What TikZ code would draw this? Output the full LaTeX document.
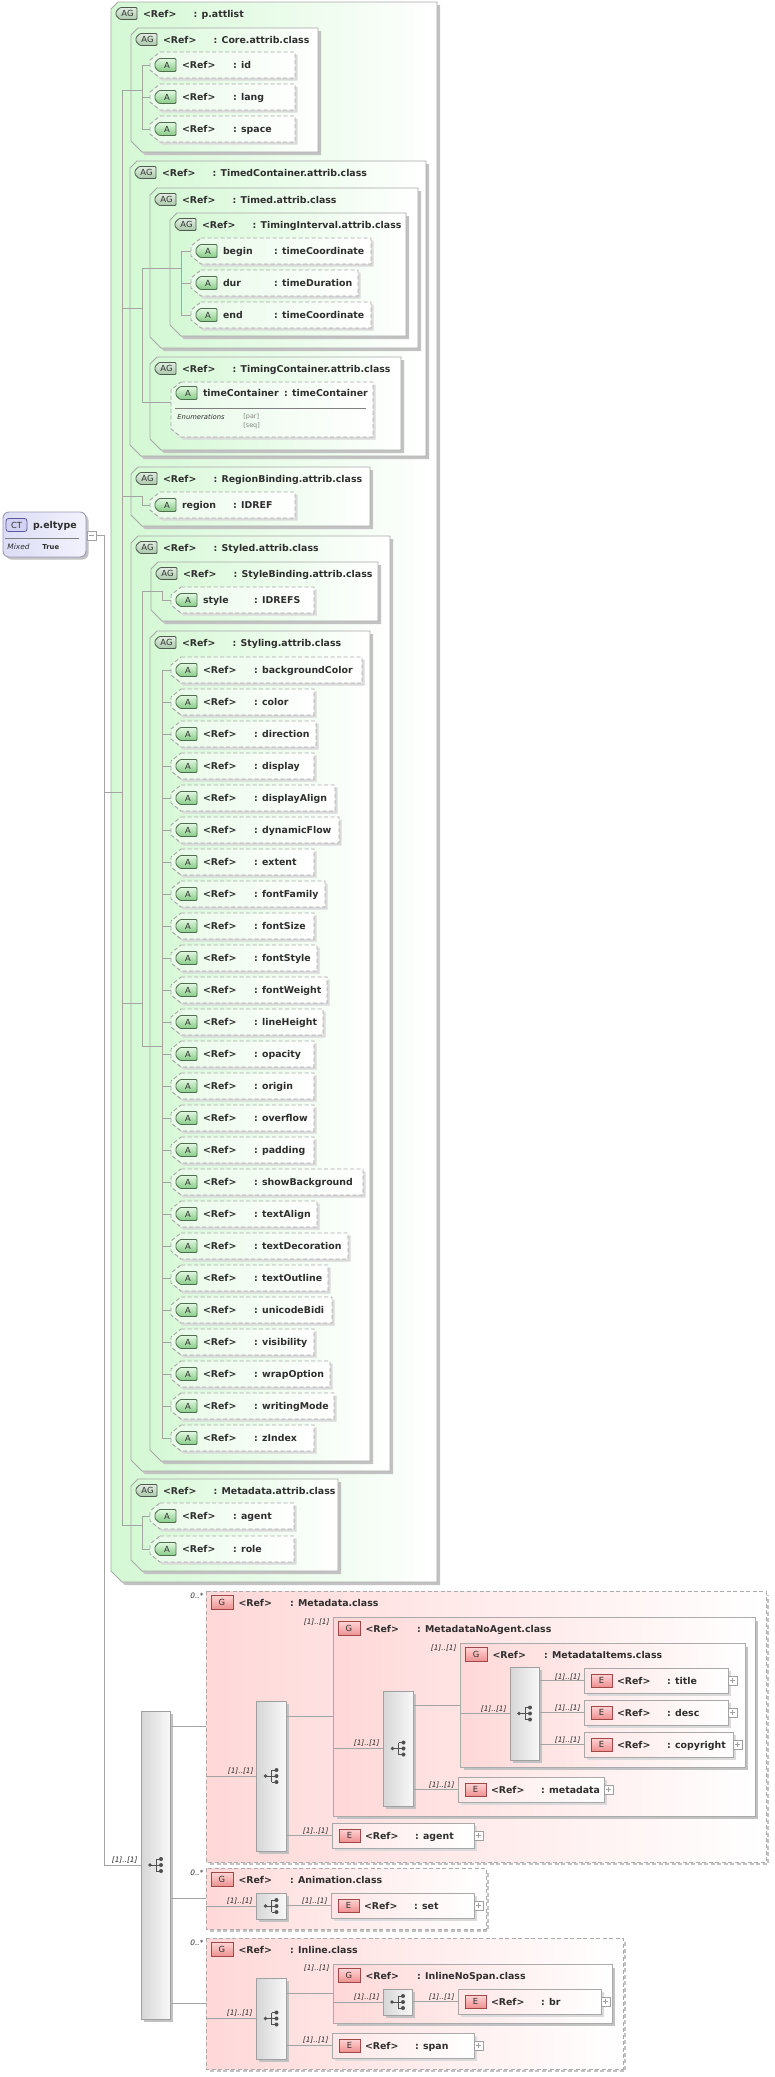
\documentclass[tikz,border=0pt]{standalone}
\usepackage{fontspec}
\setmainfont{DejaVu Sans}
\usetikzlibrary{calc}
\definecolor{txt}{HTML}{2E2E2E}
\definecolor{bord}{HTML}{A8A8A8}
\definecolor{bordA}{HTML}{A8A8A8}
\definecolor{bordG}{HTML}{ABABAB}
\definecolor{shad}{HTML}{C2C2C2}
\definecolor{shadA}{HTML}{DADADA}
\definecolor{agL}{HTML}{D4F8D4}
\definecolor{aL}{HTML}{E8FAE8}
\definecolor{gL}{HTML}{FFD8D8}
\definecolor{eL}{HTML}{FFE6E6}
\definecolor{seqL}{HTML}{D6D6D6}
\definecolor{seqR}{HTML}{F8F8F8}
\definecolor{seqb}{HTML}{A0A0A0}
\definecolor{lineC}{HTML}{A4A4A4}
\definecolor{iconC}{HTML}{505050}
\definecolor{bdgtxt}{HTML}{303030}
\definecolor{agbT}{HTML}{E2EEE2}
\definecolor{agbB}{HTML}{A9C8A9}
\definecolor{agbD}{HTML}{505A50}
\definecolor{abT}{HTML}{E2F8E2}
\definecolor{abB}{HTML}{86CC86}
\definecolor{abD}{HTML}{4E6E4E}
\definecolor{ebT}{HTML}{FFD4D4}
\definecolor{ebB}{HTML}{EE9090}
\definecolor{ebD}{HTML}{A04848}
\definecolor{ctb}{HTML}{9A9AB8}
\definecolor{ctL}{HTML}{DCDCF6}
\definecolor{ctR}{HTML}{F2F2FC}
\definecolor{ctbf}{HTML}{D2D2F4}
\definecolor{ctbb}{HTML}{5A5A9A}
\definecolor{plusb}{HTML}{A0A0A0}
\definecolor{graytxt}{HTML}{808080}
\newcommand\ttlfont{\fontsize{9.4}{11}\selectfont\bfseries}
\newcommand\bdgfont{\fontsize{8.4}{10}\selectfont}
\newcommand\mltfont{\fontsize{7.4}{9}\selectfont\itshape}
\newcommand\enumfont{\fontsize{6.8}{8}\selectfont\itshape}
\newcommand\smallgfont{\fontsize{6.4}{8}\selectfont}
\tikzset{
 conn/.style={draw=lineC, line width=0.9pt},
 ttl/.style={anchor=base west, inner sep=0pt, outer sep=0pt, font=\ttlfont, text=txt},
 bdg/.style={inner sep=0pt, font=\bdgfont, text=bdgtxt},
 mlt/.style={anchor=base east, inner sep=0pt, font=\mltfont, text=txt},
 dsh/.style={dash pattern=on 4pt off 2.5pt},
 icn/.style={draw=iconC, line width=0.9pt},
}
% AG badge: name, x, yc
\newcommand{\AGbadge}[3]{%
 \draw[draw=agbD, top color=agbT, bottom color=agbB, rounded corners=1pt, line width=0.8pt]
  ({#2+4},{#3-6}) -- ({#2+21},{#3-6}) -- ({#2+21},{#3+6}) -- ({#2+4},{#3+6}) -- ({#2},{#3+2}) -- ({#2},{#3-2}) -- cycle;
 \node[bdg] (#1-b) at ({#2+11.5},{#3}) {AG};}
% A badge
\newcommand{\Abadge}[3]{%
 \draw[draw=abD, top color=abT, bottom color=abB, rounded corners=1pt, line width=0.8pt]
  ({#2+4},{#3-6.5}) -- ({#2+21},{#3-6.5}) -- ({#2+21},{#3+6.5}) -- ({#2+4},{#3+6.5}) -- ({#2},{#3+2.5}) -- ({#2},{#3-2.5}) -- cycle;
 \node[bdg] (#1-b) at ({#2+12},{#3}) {A};}
% E badge
\newcommand{\Ebadge}[3]{%
 \draw[draw=ebD, top color=ebT, bottom color=ebB, line width=0.8pt] ({#2},{#3-6.5}) rectangle ({#2+21},{#3+6.5});
 \node[bdg] (#1-b) at ({#2+10.5},{#3}) {E};}
% G badge
\newcommand{\Gbadge}[3]{%
 \draw[draw=ebD, top color=ebT, bottom color=ebB, line width=0.8pt] ({#2},{#3-7}) rectangle ({#2+22},{#3+7});
 \node[bdg] (#1-b) at ({#2+11},{#3}) {G};}
% AG box: name L T R B title
\newcommand{\AGbox}[6]{%
 \fill[shad] ({#2+10},{#3+3}) -- ({#4+3},{#3+3}) -- ({#4+3},{#5+3}) -- ({#2+14},{#5+3}) -- ({#2+3},{#5-8}) -- ({#2+3},{#3+10}) -- cycle;
 \draw[draw=bord, left color=agL, right color=white] ({#2+7},{#3}) -- ({#4},{#3}) -- ({#4},{#5}) -- ({#2+11},{#5}) -- ({#2},{#5-11}) -- ({#2},{#3+7}) -- cycle;
 \coordinate (#1-w) at ({#2},{(#3+#5)/2});
 \AGbadge{#1}{#2+5}{#3+11.5}
 \node[ttl] (#1-r) at ({#2+32},{#3+15}) {<Ref>};
 \node[ttl] (#1-t) at ({#2+82.5},{#3+15}) {: #6};}
% A shape: L T R B
\newcommand{\Ashape}[4]{%
 \fill[shadA] ({#1+12},{#2+2.5}) -- ({#3+2.5},{#2+2.5}) -- ({#3+2.5},{#4+2.5}) -- ({#1+12},{#4+2.5}) -- ({#1+2},{#4-6}) -- ({#1+2},{#2+10}) -- cycle;
 \draw[draw=bordA, dsh, left color=aL, right color=white] ({#1+10},{#2}) -- ({#3},{#2}) -- ({#3},{#4}) -- ({#1+10},{#4}) -- ({#1},{#4-8}) -- ({#1},{#2+8}) -- cycle;}
% A box: name L T R lab1 lab2
\newcommand{\Abox}[6]{%
 \Ashape{#2}{#3}{#4}{#3+26}
 \coordinate (#1-w) at ({#2},{#3+13});
 \Abadge{#1}{#2+5}{#3+13}
 \node[ttl] (#1-r) at ({#2+32},{#3+16.5}) {#5};
 \node[ttl] (#1-t) at ({#2+83},{#3+16.5}) {#6};}
% plus box: name x yc
\newcommand{\PlusBox}[3]{%
 \draw[draw=plusb, fill=white, line width=0.7pt] ({#2},{#3-4.5}) rectangle ({#2+9},{#3+4.5});
 \draw[draw=plusb, line width=0.7pt] ({#2+2.2},{#3}) -- ({#2+6.8},{#3}) ({#2+4.5},{#3-2.3}) -- ({#2+4.5},{#3+2.3});
 \coordinate (#1) at ({#2+4.5},{#3});}
% E box: name L T R title
\newcommand{\Ebox}[5]{%
 \fill[shadA] ({#2+2.5},{#3+2.5}) rectangle ({#4+2.5},{#3+27.5});
 \draw[draw=bord, left color=eL, right color=white] ({#2},{#3}) rectangle ({#4},{#3+25});
 \coordinate (#1-w) at ({#2},{#3+12.5});
 \Ebadge{#1}{#2+7}{#3+12.5}
 \node[ttl] (#1-r) at ({#2+33},{#3+16}) {<Ref>};
 \node[ttl] (#1-t) at ({#2+83},{#3+16}) {: #5};
 \PlusBox{#1-p}{#4}{#3+12.5}}
% G box: name L T R B title style
\newcommand{\Gbox}[7]{%
 \draw[draw=shad, line width=2.4pt, #7] ({#2+4},{#5+1.8}) -- ({#4+1.8},{#5+1.8}) -- ({#4+1.8},{#3+4});
 \draw[draw=bordG, #7, left color=gL, right color=white] ({#2},{#3}) rectangle ({#4},{#5});
 \coordinate (#1-w) at ({#2},{(#3+#5)/2});
 \Gbadge{#1}{#2+5}{#3+11.5}
 \node[ttl] (#1-r) at ({#2+32.5},{#3+15}) {<Ref>};
 \node[ttl] (#1-t) at ({#2+84},{#3+15}) {: #6};}
% seq icon: name cx cy
\newcommand{\SeqIcon}[3]{%
 \draw[icn] ({#2-6},{#3}) -- ({#2},{#3});
 \draw[icn] ({#2},{#3-6}) -- ({#2},{#3+6});
 \draw[icn] ({#2},{#3-6}) -- ({#2+5},{#3-6}) ({#2},{#3}) -- ({#2+5},{#3}) ({#2},{#3+6}) -- ({#2+5},{#3+6});
 \fill[iconC] ({#2-6},{#3}) circle (1.8);
 \fill[iconC] ({#2+5},{#3-6}) circle (2) ({#2+5},{#3}) circle (2) ({#2+5},{#3+6}) circle (2);
 \coordinate (#1-ic) at ({#2},{#3});}
% seq box: name L T R B
\newcommand{\SeqBox}[5]{%
 \fill[shad] ({#2+2.5},{#3+2.5}) rectangle ({#4+2.5},{#5+2.5});
 \draw[draw=seqb, left color=seqL, right color=seqR] ({#2},{#3}) rectangle ({#4},{#5});
 \coordinate (#1-w) at ({#2},{(#3+#5)/2});
 \coordinate (#1-e) at ({#4},{(#3+#5)/2});
 \SeqIcon{#1}{(#2+#4)/2+0.5}{(#3+#5)/2}}
\begin{document}
\begin{tikzpicture}[x=1pt,y=-1pt,line width=0.9pt]
\useasboundingbox (0,0) rectangle (774,2077);
\fill[white] (0,0) rectangle (774,2077);
% ===== p.attlist =====
\AGbox{pat}{111}{2}{437}{1582}{p.attlist}
\AGbox{core}{131}{28}{318}{152}{Core.attrib.class}
\Abox{aid}{150}{52}{295}{<Ref>}{: id}
\Abox{alang}{150}{84}{295}{<Ref>}{: lang}
\Abox{aspace}{150}{116}{295}{<Ref>}{: space}
\AGbox{tc}{130}{161}{426}{456}{TimedContainer.attrib.class}
\AGbox{tim}{150}{188}{418}{348}{Timed.attrib.class}
\AGbox{ti}{170}{213}{406}{336}{TimingInterval.attrib.class}
\Abox{abegin}{191}{238}{371}{begin}{: timeCoordinate}
\Abox{adur}{191}{270}{358}{dur}{: timeDuration}
\Abox{aend}{191}{302}{371}{end}{: timeCoordinate}
\AGbox{tcon}{150}{357}{401}{450}{TimingContainer.attrib.class}
\Ashape{171}{382}{373}{437}
\coordinate (atc-w) at (171,402);
\Abadge{atc}{176}{393}
\node[ttl] (atc-r) at (203,396.5) {timeContainer};
\node[ttl] (atc-t) at (284,396.5) {: timeContainer};
\draw[draw=graytxt, line width=0.7pt] (175,408) -- (366,408);
\node[anchor=base west, inner sep=0pt, font=\enumfont, text=txt] (atc-en) at (177,419.5) {Enumerations};
\node[anchor=base west, inner sep=0pt, font=\smallgfont, text=graytxt] (atc-p) at (243,418.5) {[par]};
\node[anchor=base west, inner sep=0pt, font=\smallgfont, text=graytxt] (atc-s) at (243,427.5) {[seq]};
\AGbox{rb}{131}{467}{370}{526}{RegionBinding.attrib.class}
\Abox{aregion}{150}{492}{295}{region}{: IDREF}
\AGbox{sty}{131}{536}{390}{1471}{Styled.attrib.class}
\AGbox{sb}{151}{562}{378}{621}{StyleBinding.attrib.class}
\Abox{astyle}{171}{587}{314}{style}{: IDREFS}
\AGbox{sti}{150}{631}{370}{1461}{Styling.attrib.class}
\foreach \nm/\rr [count=\i from 0] in {backgroundColor/362, color/314, direction/316, display/314, displayAlign/335, dynamicFlow/339, extent/314, fontFamily/325, fontSize/314, fontStyle/317, fontWeight/327, lineHeight/323, opacity/314, origin/314, overflow/314, padding/314, showBackground/363, textAlign/317, textDecoration/348, textOutline/328, unicodeBidi/332, visibility/314, wrapOption/330, writingMode/334, zIndex/314}
 {\Abox{st\i}{171}{657+32*\i}{\rr}{<Ref>}{: \nm}}
\AGbox{mda}{131}{1479}{338}{1571}{Metadata.attrib.class}
\Abox{aagent}{150}{1503}{294}{<Ref>}{: agent}
\Abox{arole}{150}{1536}{294}{<Ref>}{: role}
% ===== CT p.eltype =====
\fill[shad, rounded corners=6pt] (5.5,514.5) rectangle (88.5,559.5);
\draw[draw=ctb, left color=ctL, right color=ctR, rounded corners=6pt] (3,512) rectangle (86,557);
\draw[draw=ctbb, fill=ctbf, rounded corners=2.5pt, line width=0.8pt] (6,518.5) rectangle (27,531.5);
\node[bdg] (ct-b) at (16.5,525) {CT};
\node[ttl] (ct-n) at (33,528.5) {p.eltype};
\draw[draw=graytxt, line width=0.7pt] (5,538) -- (79,538);
\node[anchor=base west, inner sep=0pt, font=\fontsize{7.4}{9}\selectfont\itshape, text=txt] (ct-m) at (7,549.5) {Mixed};
\node[anchor=base west, inner sep=0pt, font=\fontsize{6.8}{8}\selectfont\bfseries, text=txt] (ct-v) at (42,549) {True};
\draw[draw=plusb, fill=white, line width=0.7pt] (87,531) rectangle (96,540);
\draw[draw=plusb, line width=0.7pt] (89.2,535.5) -- (93.8,535.5);
\coordinate (ctx) at (96,535.5);
% ===== bottom part =====
\SeqBox{mseq}{141}{1711}{170}{2019}
\Gbox{gmeta}{206}{1591}{766}{1862}{Metadata.class}{dsh}
\SeqBox{s1}{256}{1701}{286}{1851}
\Gbox{gmna}{333}{1617}{755}{1816}{MetadataNoAgent.class}{solid}
\SeqBox{s2}{383}{1691}{413}{1806}
\Gbox{gmi}{460}{1643}{745}{1767}{MetadataItems.class}{solid}
\SeqBox{s3}{510}{1667}{539}{1760}
\Ebox{etitle}{584}{1668}{728}{title}
\Ebox{edesc}{584}{1700}{728}{desc}
\Ebox{ecopy}{584}{1732}{733}{copyright}
\Ebox{emd}{458}{1777}{604}{metadata}
\Ebox{eag}{332}{1823}{474}{agent}
\Gbox{ganim}{206}{1868}{486}{1929}{Animation.class}{dsh}
\SeqBox{s4}{256}{1893}{286}{1919}
\Ebox{eset}{331}{1893}{474}{set}
\Gbox{ginl}{206}{1938}{623}{2069}{Inline.class}{dsh}
\SeqBox{s5}{256}{1978}{286}{2059}
\Gbox{ginsp}{333}{1964}{612}{2023}{InlineNoSpan.class}{solid}
\SeqBox{s6}{383}{1989}{412}{2015}
\Ebox{ebr}{458}{1989}{601}{br}
\Ebox{espan}{332}{2033}{474}{span}
% ===== multiplicity labels =====
\node[mlt] (m0) at (138,1862) {[1]..[1]};
\node[mlt] (m1) at (204,1598) {0..*};
\node[mlt] (m2) at (254,1773) {[1]..[1]};
\node[mlt] (m3) at (330,1624) {[1]..[1]};
\node[mlt] (m4) at (329,1833) {[1]..[1]};
\node[mlt] (m5) at (380,1745.5) {[1]..[1]};
\node[mlt] (m6) at (457,1650) {[1]..[1]};
\node[mlt] (m7) at (455,1787) {[1]..[1]};
\node[mlt] (m8) at (507,1711) {[1]..[1]};
\node[mlt] (m9) at (581,1679) {[1]..[1]};
\node[mlt] (m10) at (581,1710.5) {[1]..[1]};
\node[mlt] (m11) at (581,1742.5) {[1]..[1]};
\node[mlt] (m12) at (204,1875) {0..*};
\node[mlt] (m13) at (253,1903) {[1]..[1]};
\node[mlt] (m14) at (328,1903) {[1]..[1]};
\node[mlt] (m15) at (204,1945) {0..*};
\node[mlt] (m16) at (253,2015.5) {[1]..[1]};
\node[mlt] (m17) at (330,1970) {[1]..[1]};
\node[mlt] (m18) at (329,2042.5) {[1]..[1]};
\node[mlt] (m19) at (380,1999) {[1]..[1]};
\node[mlt] (m20) at (455,1999) {[1]..[1]};
% ===== connectors (upper) =====
\coordinate (spM) at (104,0);
\coordinate (spP) at (122,0);
\coordinate (spC) at (142,0);
\coordinate (spT) at (181,0);
\coordinate (spS) at (162,0);
\draw[conn] (ctx) -- (spM |- ctx) -- (spM |- mseq-w) -- (mseq-w);
\draw[conn] (spM |- pat-w) -- (spP |- pat-w);
\draw[conn] (spP |- core-w) -- (spP |- mda-w);
\draw[conn] (spP |- core-w) -- (spC |- core-w);
\draw[conn] (spC |- aid-w) -- (spC |- aspace-w);
\foreach \c in {aid,alang,aspace} {\draw[conn] (spC |- \c-w) -- (\c-w);}
\draw[conn] (spP |- tc-w) -- (spC |- tc-w);
\draw[conn] (spC |- tim-w) -- (spC |- atc-w);
\draw[conn] (spC |- tim-w) -- (spT |- tim-w);
\draw[conn] (spT |- abegin-w) -- (spT |- aend-w);
\foreach \c in {abegin,adur,aend} {\draw[conn] (spT |- \c-w) -- (\c-w);}
\draw[conn] (spC |- atc-w) -- (atc-w);
\draw[conn] (spP |- rb-w) -- (spC |- rb-w) -- (spC |- aregion-w) -- (aregion-w);
\draw[conn] (spP |- sty-w) -- (spC |- sty-w);
\draw[conn] (spC |- sb-w) -- (spC |- sti-w);
\draw[conn] (spC |- sb-w) -- (spS |- sb-w) -- (spS |- astyle-w) -- (astyle-w);
\draw[conn] (spC |- sti-w) -- (spS |- sti-w);
\draw[conn] (spS |- st0-w) -- (spS |- st24-w);
\foreach \i in {0,...,24} {\draw[conn] (spS |- st\i-w) -- (st\i-w);}
\draw[conn] (spP |- mda-w) -- (spC |- mda-w);
\draw[conn] (spC |- aagent-w) -- (spC |- arole-w);
\foreach \c in {aagent,arole} {\draw[conn] (spC |- \c-w) -- (\c-w);}
% ===== connectors (lower) =====
\draw[conn] (mseq-e |- gmeta-w) -- (gmeta-w);
\draw[conn] (mseq-e |- ganim-w) -- (ganim-w);
\draw[conn] (mseq-e |- ginl-w) -- (ginl-w);
\draw[conn] (gmeta-w |- s1-w) -- (s1-w);
\draw[conn] (s1-e |- gmna-w) -- (gmna-w);
\draw[conn] (s1-e |- eag-w) -- (eag-w);
\draw[conn] (gmna-w |- s2-w) -- (s2-w);
\draw[conn] (s2-e |- gmi-w) -- (gmi-w);
\draw[conn] (s2-e |- emd-w) -- (emd-w);
\draw[conn] (gmi-w |- s3-w) -- (s3-w);
\draw[conn] (s3-e |- etitle-w) -- (etitle-w);
\draw[conn] (s3-e |- edesc-w) -- (edesc-w);
\draw[conn] (s3-e |- ecopy-w) -- (ecopy-w);
\draw[conn] (ganim-w |- s4-w) -- (s4-w);
\draw[conn] (s4-e |- eset-w) -- (eset-w);
\draw[conn] (ginl-w |- s5-w) -- (s5-w);
\draw[conn] (s5-e |- ginsp-w) -- (ginsp-w);
\draw[conn] (s5-e |- espan-w) -- (espan-w);
\draw[conn] (ginsp-w |- s6-w) -- (s6-w);
\draw[conn] (s6-e |- ebr-w) -- (ebr-w);
\end{tikzpicture}
\end{document}
